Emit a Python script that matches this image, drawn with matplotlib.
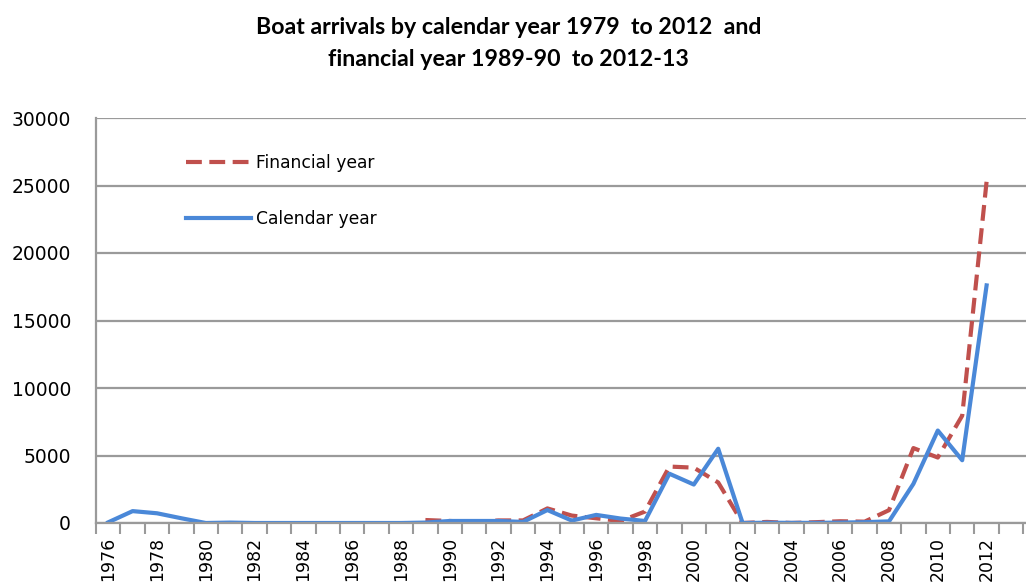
import matplotlib
matplotlib.use('Agg')
import matplotlib.pyplot as plt
import numpy as np

### data
cal_years = list(range(1976, 2013))
cal_vals = [50, 880, 720, 350, 0, 30, 0, 0, 0, 0, 0, 0, 0,
            30, 150, 150, 150, 80, 960, 180, 600, 330, 150,
            3650, 2850, 5500, 0, 20, 10, 10, 30, 60, 120,
            2900, 6850, 4650, 17600]

fin_years = list(range(1989, 2013))
fin_vals = [220, 150, 80, 190, 190, 1080, 550, 350, 150, 850,
            4180, 4100, 3000, 0, 80, 0, 60, 130, 100, 950,
            5550, 4850, 7950, 25300]

label_years = list(range(1976, 2013, 2))
yticks = [0, 5000, 10000, 15000, 20000, 25000, 30000]

red = '#C0504D'
blue = '#4A88D8'
grey = '#9a9a9a'

fig = plt.figure(figsize=(10.26, 5.85), dpi=100)
# axis runs past the right edge of the picture like the cropped original
ax = fig.add_axes([96/1026, 1-523/585, 951.6/1026, 405/585])

ax.plot(fin_years, fin_vals, color=red, lw=3, dashes=(3.8, 1.8),
        label='Financial year', solid_joinstyle='miter')
ax.plot(cal_years, cal_vals, color=blue, lw=3, label='Calendar year')

ax.set_xlim(1975.5, 2014.5)
ax.set_ylim(0, 30000)

# category style axis: tick marks between years, labels on every 2nd year
ax.set_xticks(np.arange(1975.5, 2015, 1))
ax.set_xticklabels([])
ax.set_xticks(label_years, minor=True)
ax.set_xticklabels([str(y) for y in label_years], minor=True,
                   rotation=90, fontsize=12.5, family='DejaVu Sans', va='top')
ax.tick_params(axis='x', which='major', length=8, width=1.5, color=grey)
ax.tick_params(axis='x', which='minor', length=0, pad=10)

ax.set_yticks(yticks)
ax.set_yticklabels([str(v) for v in yticks], fontsize=13.5, family='DejaVu Sans')
ax.tick_params(axis='y', length=0, pad=18)

ax.grid(axis='y', color=grey, lw=1.6)
ax.set_axisbelow(True)
for s in ['top', 'right']:
    ax.spines[s].set_visible(False)
for s in ['left', 'bottom']:
    ax.spines[s].set_color(grey)
    ax.spines[s].set_linewidth(1.6)

leg = fig.legend(loc='upper left', bbox_to_anchor=(186/1026, 1-154/585),
                 frameon=False, fontsize=12.3, handlelength=3.8,
                 handletextpad=0.3, labelspacing=2.2, borderpad=0,
                 borderaxespad=0)
for t in leg.get_texts():
    t.set_family('DejaVu Sans')

fig.text(0.496, 1-27/585, 'Boat arrivals by calendar year 1979  to 2012  and',
         ha='center', va='center', fontsize=16.7, fontweight='bold',
         family='Lato')
fig.text(0.496, 1-60/585, 'financial year 1989-90  to 2012-13',
         ha='center', va='center', fontsize=16.7, fontweight='bold',
         family='Lato')

fig.savefig('out.png', dpi=100)
